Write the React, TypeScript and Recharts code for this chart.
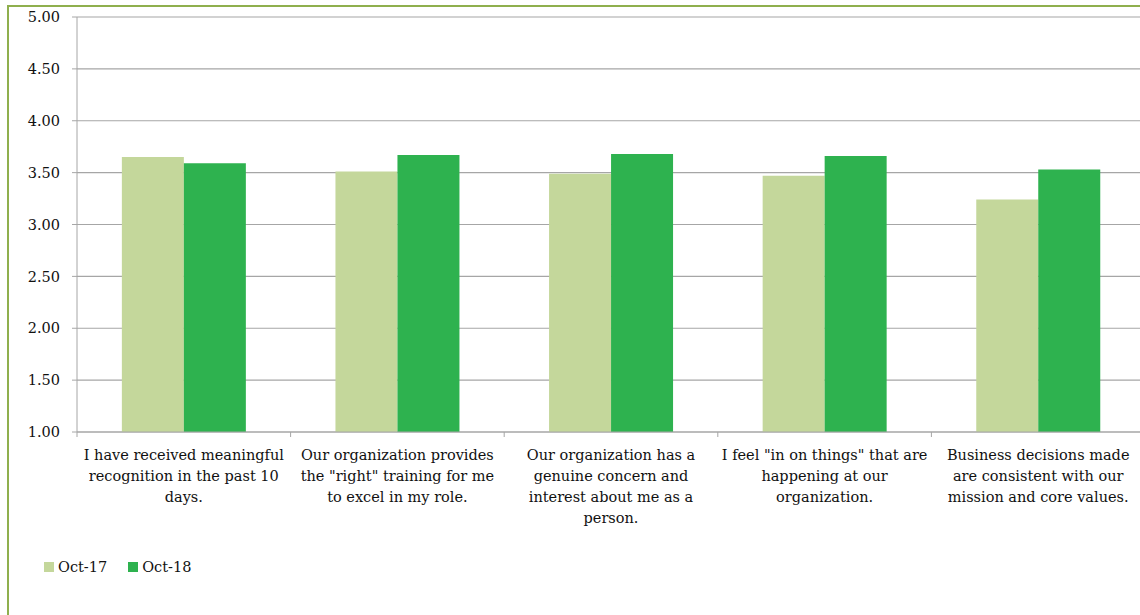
import React from "react";
import { BarChart, Bar, XAxis, YAxis, CartesianGrid, Legend } from "recharts";

const categories = [
  "I have received meaningful\nrecognition in the past 10\ndays.",
  'Our organization provides\nthe "right" training for me\nto excel in my role.',
  "Our organization has a\ngenuine concern and\ninterest about me as a\nperson.",
  'I feel "in on things" that are\nhappening at our\norganization.',
  "Business decisions made\nare consistent with our\nmission and core values.",
];
const oct17 = [3.65, 3.51, 3.49, 3.47, 3.24];
const oct18 = [3.59, 3.67, 3.68, 3.66, 3.53];
const yTicks = [1, 1.5, 2, 2.5, 3, 3.5, 4, 4.5, 5];

const W = 1150;
const H = 615;
const M = { top: 17, right: 5, left: 0, bottom: 0 };
const Y_W = 77;
const FONT = "'DejaVu Serif', serif";
const LIGHT = "#C4D79B";
const DARK = "#2EB24F";
const AXIS = "#a6a6a6";

const data = categories.map((c, i) => ({ name: c, oct17: oct17[i], oct18: oct18[i] }));
const band = (W - M.left - M.right - Y_W) / categories.length;

const CatTick = (props: any) => {
  const { x, y, payload, index } = props;
  const lines = String(payload.value).split("\n");
  return (
    <g>
      <line x1={x - band / 2} x2={x - band / 2} y1={y} y2={y + 5} stroke={AXIS} />
      {index === categories.length - 1 && (
        <line x1={x + band / 2} x2={x + band / 2} y1={y} y2={y + 5} stroke={AXIS} />
      )}
      <text textAnchor="middle" fontFamily={FONT} fontSize={14.5} fill="#111">
        {lines.map((l, i) => (
          <tspan key={i} x={x} y={y + 28 + i * 21}>
            {l}
          </tspan>
        ))}
      </text>
    </g>
  );
};

const LegendBox = (props: any) => (
  <div style={{ height: 70, paddingTop: 12, paddingLeft: 44, boxSizing: "border-box", display: "flex" }}>
    {(props.payload || []).map((p: any) => (
      <div
        key={p.value}
        style={{ display: "flex", alignItems: "center", height: 20, marginRight: 21, fontFamily: FONT, fontSize: 14.5, color: "#111" }}
      >
        <span style={{ width: 10, height: 10, background: p.color, marginRight: 4, display: "inline-block" }} />
        {p.value}
      </div>
    ))}
  </div>
);

export default function App() {
  return (
    <div style={{ position: "absolute", left: 0, top: 0, width: 1140, height: 615, overflow: "hidden", background: "#fff" }}>
      <div
        style={{ position: "absolute", left: 7, top: 5, width: 1300, height: 800, border: "2px solid #8FAF4E" }}
      />
      <div style={{ position: "absolute", left: 0, top: 0 }}>
        <BarChart width={W} height={H} data={data} margin={M} barCategoryGap="21%" barGap={0}>
          <CartesianGrid vertical={false} stroke={AXIS} strokeWidth={1.2} />
          <XAxis
            dataKey="name"
            interval={0}
            height={113}
            stroke={AXIS}
            tickLine={false}
            tickSize={0}
            tickMargin={0}
            tick={<CatTick />}
          />
          <YAxis
            width={Y_W}
            domain={[1, 5]}
            ticks={yTicks}
            interval={0}
            stroke={AXIS}
            tickSize={5}
            tickMargin={12}
            tickFormatter={(v: number) => v.toFixed(2)}
            tick={{ fill: "#111", fontFamily: FONT, fontSize: 14.5 }}
          />
          <Legend verticalAlign="bottom" align="left" wrapperStyle={{ left: 0 }} content={<LegendBox />} />
          <Bar dataKey="oct17" name="Oct-17" fill={LIGHT} isAnimationActive={false} />
          <Bar dataKey="oct18" name="Oct-18" fill={DARK} isAnimationActive={false} />
        </BarChart>
      </div>
    </div>
  );
}
